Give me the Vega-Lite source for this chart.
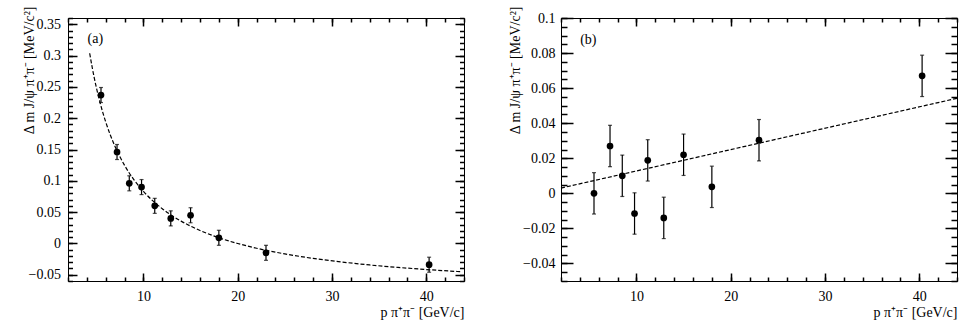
{
  "$schema": "https://vega.github.io/schema/vega-lite/v6.json",
  "background": "white",
  "padding": 5,
  "spacing": 32,
  "config": {
    "view": {"stroke": "black", "strokeWidth": 1},
    "font": "Liberation Serif, Times New Roman, DejaVu Serif, serif"
  },
  "datasets": {
    "pa": [
      {"p": 5.5, "m": 0.237, "lo": 0.225, "hi": 0.249},
      {"p": 7.2, "m": 0.146, "lo": 0.134, "hi": 0.158},
      {"p": 8.5, "m": 0.096, "lo": 0.084, "hi": 0.108},
      {"p": 9.8, "m": 0.090, "lo": 0.078, "hi": 0.102},
      {"p": 11.2, "m": 0.060, "lo": 0.048, "hi": 0.072},
      {"p": 12.9, "m": 0.040, "lo": 0.028, "hi": 0.052},
      {"p": 15.0, "m": 0.045, "lo": 0.033, "hi": 0.057},
      {"p": 18.0, "m": 0.009, "lo": -0.003, "hi": 0.021},
      {"p": 23.0, "m": -0.015, "lo": -0.027, "hi": -0.003},
      {"p": 40.3, "m": -0.034, "lo": -0.046, "hi": -0.022}
    ],
    "ca": [
      {"p": 4.3, "fit": 0.3037}, {"p": 4.6, "fit": 0.2784}, {"p": 5.0, "fit": 0.2495},
      {"p": 5.5, "fit": 0.2192}, {"p": 6.0, "fit": 0.1940}, {"p": 6.5, "fit": 0.1727},
      {"p": 7.0, "fit": 0.1544}, {"p": 8.0, "fit": 0.1247}, {"p": 9.0, "fit": 0.1016},
      {"p": 10.0, "fit": 0.0831}, {"p": 11.0, "fit": 0.0680}, {"p": 12.0, "fit": 0.0554},
      {"p": 13.0, "fit": 0.0447}, {"p": 14.0, "fit": 0.0356}, {"p": 15.0, "fit": 0.0276},
      {"p": 16.0, "fit": 0.0207}, {"p": 18.0, "fit": 0.0091}, {"p": 20.0, "fit": -0.0001},
      {"p": 22.0, "fit": -0.0077}, {"p": 25.0, "fit": -0.0167}, {"p": 28.0, "fit": -0.0239},
      {"p": 31.0, "fit": -0.0296}, {"p": 34.0, "fit": -0.0344}, {"p": 37.0, "fit": -0.0383},
      {"p": 40.0, "fit": -0.0417}, {"p": 43.6, "fit": -0.0451}
    ],
    "pb": [
      {"p": 5.5, "m": 0.000, "lo": -0.0118, "hi": 0.0118},
      {"p": 7.2, "m": 0.027, "lo": 0.0152, "hi": 0.0388},
      {"p": 8.5, "m": 0.010, "lo": -0.0018, "hi": 0.0218},
      {"p": 9.8, "m": -0.0115, "lo": -0.0233, "hi": 0.0003},
      {"p": 11.2, "m": 0.0188, "lo": 0.0070, "hi": 0.0306},
      {"p": 12.9, "m": -0.014, "lo": -0.0258, "hi": -0.0022},
      {"p": 15.0, "m": 0.022, "lo": 0.0102, "hi": 0.0338},
      {"p": 18.0, "m": 0.0037, "lo": -0.0081, "hi": 0.0155},
      {"p": 23.0, "m": 0.0303, "lo": 0.0185, "hi": 0.0421},
      {"p": 40.3, "m": 0.067, "lo": 0.0552, "hi": 0.0788}
    ],
    "lb": [
      {"p": 2, "fit": 0.0030},
      {"p": 44, "fit": 0.0542}
    ],
    "one": [{"k": 1}]
  },
  "hconcat": [
    {
      "width": 396,
      "height": 263,
      "resolve": {"axis": {"x": "independent", "y": "independent"}},
      "layer": [
        {
          "data": {"name": "pa"},
          "mark": {"type": "errorbar", "ticks": true, "size": 4, "thickness": 1.2, "color": "black", "orient": "vertical"},
          "encoding": {
            "x": {"field": "p", "type": "quantitative", "scale": {"domain": [2, 44], "nice": false, "zero": false},
                  "axis": {"orient": "bottom", "values": [10, 20, 30, 40], "format": "d", "offset": -8, "tickSize": 8, "labelPadding": 8,
                           "ticks": true, "tickColor": "black", "tickWidth": 1.5, "tickOpacity": 1, "domainOpacity": 0, "grid": false, "labelOverlap": false,
                           "labelFont": "Liberation Serif, Times New Roman, serif", "labelFontSize": 14, "labelColor": "black",
                           "titleFont": "Liberation Serif, Times New Roman, serif", "titleFontSize": 14, "titleFontWeight": "normal", "titleColor": "black",
                           "title": "p π⁺π⁻ [GeV/c]", "titleAnchor": "end", "titlePadding": 2}},
            "y": {"field": "lo", "type": "quantitative", "scale": {"domain": [-0.06, 0.36], "nice": false, "zero": false},
                  "axis": {"orient": "left", "values": [-0.05, 0, 0.05, 0.1, 0.15, 0.2, 0.25, 0.3, 0.35], "format": "~g",
                           "offset": -9, "tickSize": 9, "labelPadding": 7.5,
                           "ticks": true, "tickColor": "black", "tickWidth": 1.5, "tickOpacity": 1, "domainOpacity": 0, "grid": false, "labelOverlap": false,
                           "labelFont": "Liberation Serif, Times New Roman, serif", "labelFontSize": 14, "labelColor": "black",
                           "titleFont": "Liberation Serif, Times New Roman, serif", "titleFontSize": 14, "titleFontWeight": "normal", "titleColor": "black",
                           "title": "Δ m J/ψ π⁺π⁻ [MeV/c²]", "titleAngle": 270, "titleAlign": "right", "titleBaseline": "alphabetic",
                           "titleX": -44, "titleY": -12, "minExtent": 71, "maxExtent": 71}},
            "y2": {"field": "hi"}
          }
        },
        {
          "data": {"name": "ca"},
          "mark": {"type": "line", "color": "black", "strokeWidth": 1.2, "strokeDash": [4, 2], "interpolate": "monotone"},
          "encoding": {
            "x": {"field": "p", "type": "quantitative", "scale": {"domain": [2, 44], "nice": false, "zero": false},
                  "axis": {"orient": "bottom", "values": [2, 4, 6, 8, 10, 12, 14, 16, 18, 20, 22, 24, 26, 28, 30, 32, 34, 36, 38, 40, 42, 44],
                           "offset": -4, "tickSize": 4, "ticks": true, "tickColor": "black", "tickWidth": 1.5, "tickOpacity": 1, "domainOpacity": 0, "grid": false,
                           "labels": false, "title": null, "minExtent": 0, "maxExtent": 0}},
            "y": {"field": "fit", "type": "quantitative", "scale": {"domain": [-0.06, 0.36], "nice": false, "zero": false},
                  "axis": {"orient": "left", "values": [-0.06, -0.05, -0.04, -0.03, -0.02, -0.01, 0, 0.01, 0.02, 0.03, 0.04, 0.05, 0.06, 0.07, 0.08, 0.09, 0.1, 0.11, 0.12, 0.13, 0.14, 0.15, 0.16, 0.17, 0.18, 0.19, 0.2, 0.21, 0.22, 0.23, 0.24, 0.25, 0.26, 0.27, 0.28, 0.29, 0.3, 0.31, 0.32, 0.33, 0.34, 0.35, 0.36],
                           "offset": -4.5, "tickSize": 4.5, "ticks": true, "tickColor": "black", "tickWidth": 1.5, "tickOpacity": 1, "domainOpacity": 0, "grid": false,
                           "labels": false, "title": null, "minExtent": 0, "maxExtent": 0}}
          }
        },
        {
          "data": {"name": "pa"},
          "mark": {"type": "circle", "color": "black", "opacity": 1, "size": 45},
          "encoding": {
            "x": {"field": "p", "type": "quantitative", "scale": {"domain": [2, 44], "nice": false, "zero": false},
                  "axis": {"orient": "top", "values": [10, 20, 30, 40], "offset": -8, "tickSize": 8, "ticks": true, "tickColor": "black", "tickWidth": 1.5, "tickOpacity": 1, "domainOpacity": 0, "grid": false,
                           "labels": false, "title": null, "minExtent": 0, "maxExtent": 0}},
            "y": {"field": "m", "type": "quantitative", "scale": {"domain": [-0.06, 0.36], "nice": false, "zero": false},
                  "axis": {"orient": "right", "values": [-0.05, 0, 0.05, 0.1, 0.15, 0.2, 0.25, 0.3, 0.35], "offset": -9, "tickSize": 9, "ticks": true, "tickColor": "black", "tickWidth": 1.5, "tickOpacity": 1, "domainOpacity": 0, "grid": false,
                           "labels": false, "title": null, "minExtent": 0, "maxExtent": 0}}
          }
        },
        {
          "data": {"name": "one"},
          "mark": {"type": "text", "text": "(a)", "font": "Liberation Serif, Times New Roman, serif", "fontSize": 14, "color": "black", "align": "center", "baseline": "middle"},
          "encoding": {
            "x": {"datum": 4.9, "type": "quantitative", "scale": {"domain": [2, 44], "nice": false, "zero": false},
                  "axis": {"orient": "top", "values": [2, 4, 6, 8, 10, 12, 14, 16, 18, 20, 22, 24, 26, 28, 30, 32, 34, 36, 38, 40, 42, 44],
                           "offset": -4, "tickSize": 4, "ticks": true, "tickColor": "black", "tickWidth": 1.5, "tickOpacity": 1, "domainOpacity": 0, "grid": false,
                           "labels": false, "title": null, "minExtent": 0, "maxExtent": 0}},
            "y": {"datum": 0.326, "type": "quantitative", "scale": {"domain": [-0.06, 0.36], "nice": false, "zero": false},
                  "axis": {"orient": "right", "values": [-0.06, -0.05, -0.04, -0.03, -0.02, -0.01, 0, 0.01, 0.02, 0.03, 0.04, 0.05, 0.06, 0.07, 0.08, 0.09, 0.1, 0.11, 0.12, 0.13, 0.14, 0.15, 0.16, 0.17, 0.18, 0.19, 0.2, 0.21, 0.22, 0.23, 0.24, 0.25, 0.26, 0.27, 0.28, 0.29, 0.3, 0.31, 0.32, 0.33, 0.34, 0.35, 0.36],
                           "offset": -4.5, "tickSize": 4.5, "ticks": true, "tickColor": "black", "tickWidth": 1.5, "tickOpacity": 1, "domainOpacity": 0, "grid": false,
                           "labels": false, "title": null, "minExtent": 0, "maxExtent": 0}}
          }
        }
      ]
    },
    {
      "width": 396,
      "height": 263,
      "resolve": {"axis": {"x": "independent", "y": "independent"}},
      "layer": [
        {
          "data": {"name": "pb"},
          "mark": {"type": "errorbar", "ticks": true, "size": 4, "thickness": 1.2, "color": "black", "orient": "vertical"},
          "encoding": {
            "x": {"field": "p", "type": "quantitative", "scale": {"domain": [2, 44], "nice": false, "zero": false},
                  "axis": {"orient": "bottom", "values": [10, 20, 30, 40], "format": "d", "offset": -8, "tickSize": 8, "labelPadding": 8,
                           "ticks": true, "tickColor": "black", "tickWidth": 1.5, "tickOpacity": 1, "domainOpacity": 0, "grid": false, "labelOverlap": false,
                           "labelFont": "Liberation Serif, Times New Roman, serif", "labelFontSize": 14, "labelColor": "black",
                           "titleFont": "Liberation Serif, Times New Roman, serif", "titleFontSize": 14, "titleFontWeight": "normal", "titleColor": "black",
                           "title": "p π⁺π⁻ [GeV/c]", "titleAnchor": "end", "titlePadding": 2}},
            "y": {"field": "lo", "type": "quantitative", "scale": {"domain": [-0.05, 0.1], "nice": false, "zero": false},
                  "axis": {"orient": "left", "values": [-0.04, -0.02, 0, 0.02, 0.04, 0.06, 0.08, 0.1], "format": "~g",
                           "offset": -12, "tickSize": 12, "labelPadding": 6,
                           "ticks": true, "tickColor": "black", "tickWidth": 1.5, "tickOpacity": 1, "domainOpacity": 0, "grid": false, "labelOverlap": false,
                           "labelFont": "Liberation Serif, Times New Roman, serif", "labelFontSize": 14, "labelColor": "black",
                           "titleFont": "Liberation Serif, Times New Roman, serif", "titleFontSize": 14, "titleFontWeight": "normal", "titleColor": "black",
                           "title": "Δ m J/ψ π⁺π⁻ [MeV/c²]", "titleAngle": 270, "titleAlign": "right", "titleBaseline": "alphabetic",
                           "titleX": -54, "titleY": -12, "minExtent": 74, "maxExtent": 74}},
            "y2": {"field": "hi"}
          }
        },
        {
          "data": {"name": "lb"},
          "mark": {"type": "line", "color": "black", "strokeWidth": 1.2, "strokeDash": [4, 2]},
          "encoding": {
            "x": {"field": "p", "type": "quantitative", "scale": {"domain": [2, 44], "nice": false, "zero": false},
                  "axis": {"orient": "bottom", "values": [2, 4, 6, 8, 10, 12, 14, 16, 18, 20, 22, 24, 26, 28, 30, 32, 34, 36, 38, 40, 42, 44],
                           "offset": -4, "tickSize": 4, "ticks": true, "tickColor": "black", "tickWidth": 1.5, "tickOpacity": 1, "domainOpacity": 0, "grid": false,
                           "labels": false, "title": null, "minExtent": 0, "maxExtent": 0}},
            "y": {"field": "fit", "type": "quantitative", "scale": {"domain": [-0.05, 0.1], "nice": false, "zero": false},
                  "axis": {"orient": "left", "values": [-0.05, -0.045, -0.04, -0.035, -0.03, -0.025, -0.02, -0.015, -0.01, -0.005, 0, 0.005, 0.01, 0.015, 0.02, 0.025, 0.03, 0.035, 0.04, 0.045, 0.05, 0.055, 0.06, 0.065, 0.07, 0.075, 0.08, 0.085, 0.09, 0.095, 0.1],
                           "offset": -6, "tickSize": 6, "ticks": true, "tickColor": "black", "tickWidth": 1.5, "tickOpacity": 1, "domainOpacity": 0, "grid": false,
                           "labels": false, "title": null, "minExtent": 0, "maxExtent": 0}}
          }
        },
        {
          "data": {"name": "pb"},
          "mark": {"type": "circle", "color": "black", "opacity": 1, "size": 45},
          "encoding": {
            "x": {"field": "p", "type": "quantitative", "scale": {"domain": [2, 44], "nice": false, "zero": false},
                  "axis": {"orient": "top", "values": [10, 20, 30, 40], "offset": -8, "tickSize": 8, "ticks": true, "tickColor": "black", "tickWidth": 1.5, "tickOpacity": 1, "domainOpacity": 0, "grid": false,
                           "labels": false, "title": null, "minExtent": 0, "maxExtent": 0}},
            "y": {"field": "m", "type": "quantitative", "scale": {"domain": [-0.05, 0.1], "nice": false, "zero": false},
                  "axis": {"orient": "right", "values": [-0.04, -0.02, 0, 0.02, 0.04, 0.06, 0.08, 0.1], "offset": -12, "tickSize": 12, "ticks": true, "tickColor": "black", "tickWidth": 1.5, "tickOpacity": 1, "domainOpacity": 0, "grid": false,
                           "labels": false, "title": null, "minExtent": 0, "maxExtent": 0}}
          }
        },
        {
          "data": {"name": "one"},
          "mark": {"type": "text", "text": "(b)", "font": "Liberation Serif, Times New Roman, serif", "fontSize": 14, "color": "black", "align": "center", "baseline": "middle"},
          "encoding": {
            "x": {"datum": 4.9, "type": "quantitative", "scale": {"domain": [2, 44], "nice": false, "zero": false},
                  "axis": {"orient": "top", "values": [2, 4, 6, 8, 10, 12, 14, 16, 18, 20, 22, 24, 26, 28, 30, 32, 34, 36, 38, 40, 42, 44],
                           "offset": -4, "tickSize": 4, "ticks": true, "tickColor": "black", "tickWidth": 1.5, "tickOpacity": 1, "domainOpacity": 0, "grid": false,
                           "labels": false, "title": null, "minExtent": 0, "maxExtent": 0}},
            "y": {"datum": 0.0873, "type": "quantitative", "scale": {"domain": [-0.05, 0.1], "nice": false, "zero": false},
                  "axis": {"orient": "right", "values": [-0.05, -0.045, -0.04, -0.035, -0.03, -0.025, -0.02, -0.015, -0.01, -0.005, 0, 0.005, 0.01, 0.015, 0.02, 0.025, 0.03, 0.035, 0.04, 0.045, 0.05, 0.055, 0.06, 0.065, 0.07, 0.075, 0.08, 0.085, 0.09, 0.095, 0.1],
                           "offset": -6, "tickSize": 6, "ticks": true, "tickColor": "black", "tickWidth": 1.5, "tickOpacity": 1, "domainOpacity": 0, "grid": false,
                           "labels": false, "title": null, "minExtent": 0, "maxExtent": 0}}
          }
        }
      ]
    }
  ]
}
